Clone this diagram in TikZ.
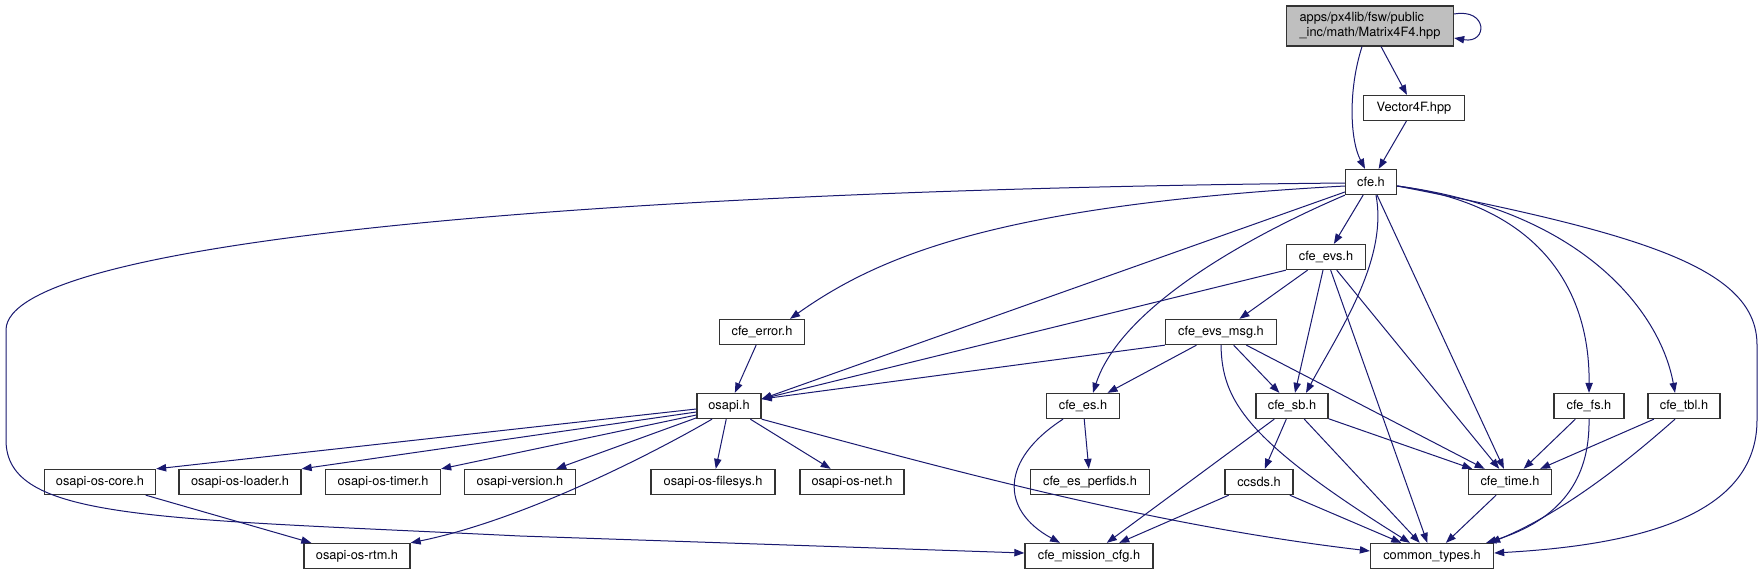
\documentclass[tikz,border=0pt]{standalone}
\usepackage{fontspec}
\setmainfont{TeX Gyre Heros}
\usepackage{tikz}
\usetikzlibrary{arrows.meta, calc}
\definecolor{edgeblue}{HTML}{191970}
\definecolor{hdrgray}{HTML}{BFBFBF}

\begin{document}
\begin{tikzpicture}[x=0.75pt, y=-0.75pt,
  hdr/.style={draw=black!80, line width=1pt, fill=white,
    minimum width=#1*0.75pt, minimum height=18.75pt,
    inner xsep=0pt, inner ysep=0pt,
    font=\fontsize{9.6}{11.25}\selectfont},
  hdrtop/.style={hdr=#1, fill=hdrgray, minimum height=30pt, align=left},
  arr/.style={-{Triangle[length=7.5pt, width=5.5pt]}, edgeblue,
    line width=0.75pt}
]
  \useasboundingbox[fill=white] (0,0) rectangle (1763,575);

  % File being documented
  \node[hdrtop=167] (mtx) at (1370,26)
    {apps/px4lib/fsw/public\\\_inc/math/Matrix4F4.hpp};
  \node[hdr=101] (vec) at (1414,108) {Vector4F.hpp};
  \node[hdr=51] (cfe) at (1371,182) {cfe.h};

  % cFE headers
  \node[hdr=79] (evs) at (1326,257) {cfe\_evs.h};
  \node[hdr=85] (err) at (762,332) {cfe\_error.h};
  \node[hdr=111] (evsmsg) at (1221,332) {cfe\_evs\_msg.h};
  \node[hdr=64] (osapi) at (729,406) {osapi.h};
  \node[hdr=73] (es) at (1083,406) {cfe\_es.h};
  \node[hdr=72] (sb) at (1292,406) {cfe\_sb.h};
  \node[hdr=70] (fs) at (1589,406) {cfe\_fs.h};
  \node[hdr=72] (tbl) at (1684,406) {cfe\_tbl.h};

  % OSAL headers
  \node[hdr=111] (core) at (100,482) {osapi-os-core.h};
  \node[hdr=122] (loader) at (240,482) {osapi-os-loader.h};
  \node[hdr=115] (timer) at (383,482) {osapi-os-timer.h};
  \node[hdr=111] (version) at (520,482) {osapi-version.h};
  \node[hdr=124] (filesys) at (713,482) {osapi-os-filesys.h};
  \node[hdr=104] (net) at (852,482) {osapi-os-net.h};
  \node[hdr=119] (perfids) at (1090,482) {cfe\_es\_perfids.h};
  \node[hdr=68] (ccsds) at (1259,482) {ccsds.h};
  \node[hdr=83] (time) at (1510,482) {cfe\_time.h};

  % Bottom row
  \node[hdr=106] (rtm) at (357,556) {osapi-os-rtm.h};
  \node[hdr=128] (mcfg) at (1089,556) {cfe\_mission\_cfg.h};
  \node[hdr=123] (ctypes) at (1432,556) {common\_types.h};

  % Matrix4F4.hpp
  \draw[arr] ($(mtx.east)+(0,-12)$) .. controls (1488,8) and (1488,44)
    .. ($(mtx.east)+(0,12)$);
  \draw[arr] ($(mtx.south)+(-8,0)$) .. controls (1348,90) and (1350,140)
    .. ($(cfe.north)+(-6,0)$);
  \draw[arr] (mtx) -- (vec);
  \draw[arr] (vec) -- (cfe);

  % cfe.h
  \draw[arr] ($(cfe.west)+(0,1)$) .. controls (600,190) and (6,240) .. (6,330)
    -- (6,440) .. controls (6,520) and (150,518) .. (520,536)
    -- ($(mcfg.west)+(0,-3)$);
  \draw[arr] ($(cfe.west)+(0,4)$) .. controls (1000,205) and (880,255)
    .. ($(err.north)+(28,0)$);
  \draw[arr] ($(cfe.west)+(0,10)$) -- ($(osapi.east)+(0,-7)$);
  \draw[arr] (cfe.south west) .. controls (1240,240) and (1120,310)
    .. ($(es.north)+(10,0)$);
  \draw[arr] (cfe) -- (evs);
  \draw[arr] ($(cfe.south)+(5,0)$) .. controls (1388,260) and (1340,330)
    .. ($(sb.north)+(14,0)$);
  \draw[arr] (cfe) -- (time);
  \draw[arr] ($(cfe.east)+(0,4)$) .. controls (1540,205) and (1590,290)
    .. (fs.north);
  \draw[arr] ($(cfe.east)+(0,4)$) .. controls (1580,210) and (1660,310)
    .. ($(tbl.north)+(-9,0)$);
  \draw[arr] ($(cfe.east)+(0,4)$) .. controls (1650,235) and (1757,270)
    .. (1757,345) -- (1757,420) .. controls (1757,515) and (1640,545)
    .. ($(ctypes.east)+(0,-3)$);

  % cfe_evs.h
  \draw[arr] (evs) -- (evsmsg);
  \draw[arr] (evs.south west) -- ($(osapi.east)+(0,-7)$);
  \draw[arr] (evs) -- (sb);
  \draw[arr] (evs) -- (ctypes);
  \draw[arr] (evs) -- (time);

  % cfe_evs_msg.h
  \draw[arr] (evsmsg.south west) -- ($(osapi.east)+(0,-7)$);
  \draw[arr] (evsmsg) -- (es);
  \draw[arr] (evsmsg) -- (sb);
  \draw[arr] (evsmsg.south) .. controls (1222,400) and (1245,440)
    .. ($(ctypes.north)+(-22,0)$);
  \draw[arr] (evsmsg) -- (time);

  \draw[arr] (err) -- (osapi);

  % osapi.h
  \draw[arr] ($(osapi.west)+(0,3)$) -- (core.north east);
  \draw[arr] ($(osapi.west)+(0,6)$) -- (loader.north east);
  \draw[arr] ($(osapi.west)+(0,9)$) -- (timer.north east);
  \draw[arr] (osapi) -- (version);
  \draw[arr] ($(osapi.south)+(-17,0)$) .. controls (652,454) and (523,520)
    .. (rtm.north east);
  \draw[arr] (osapi) -- (filesys);
  \draw[arr] (osapi) -- (net);
  \draw[arr] (osapi.south east) .. controls (950,470) and (1150,525)
    .. ($(ctypes.west)+(0,-5)$);
  \draw[arr] (core) -- (rtm);

  % cfe_es.h, cfe_sb.h and the rest
  \draw[arr] ($(es.south)+(-20,0)$) .. controls (1000,460) and (1000,510)
    .. ($(mcfg.north)+(-29,0)$);
  \draw[arr] (es) -- (perfids);
  \draw[arr] (sb) -- (mcfg);
  \draw[arr] (sb) -- (ccsds);
  \draw[arr] (sb) -- (ctypes);
  \draw[arr] (sb) -- (time);
  \draw[arr] (ccsds) -- (mcfg);
  \draw[arr] (ccsds) -- (ctypes);
  \draw[arr] (time) -- (ctypes);
  \draw[arr] (fs) -- (time);
  \draw[arr] (fs.south) .. controls (1590,480) and (1560,520)
    .. ($(ctypes.north east)+(-8,0)$);
  \draw[arr] (tbl) -- (time);
  \draw[arr] ($(tbl.south)+(-9,0)$) .. controls (1640,450) and (1570,510)
    .. ($(ctypes.north east)+(-4,0)$);
\end{tikzpicture}
\end{document}
